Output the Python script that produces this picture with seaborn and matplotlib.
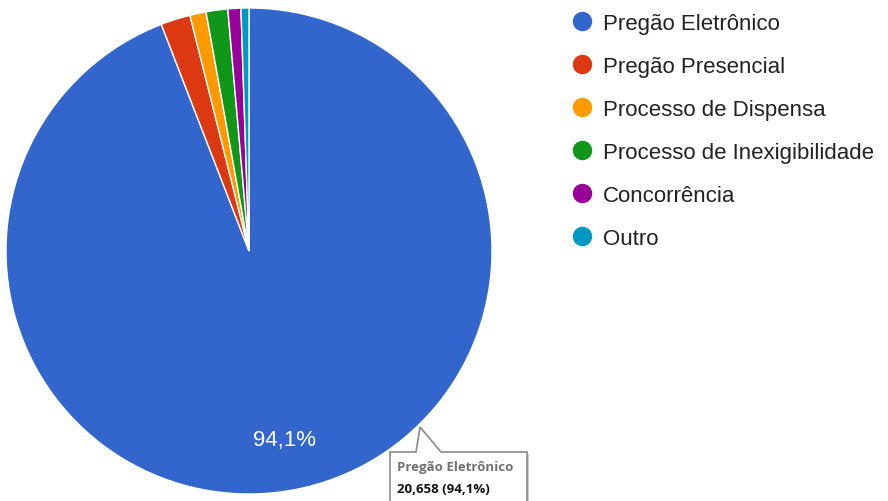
import matplotlib
matplotlib.use("Agg")
import matplotlib.pyplot as plt
import seaborn as sns
from matplotlib.lines import Line2D
from matplotlib.patches import Polygon

categories = ["Pregão Eletrônico", "Pregão Presencial", "Processo de Dispensa",
              "Processo de Inexigibilidade", "Concorrência", "Outro"]
values = [20658, 432, 237, 316, 189, 116]
colors = ["#3366cc", "#dc3912", "#ff9900", "#109618", "#990099", "#0099c6"]

sns.set_theme(style="white")
plt.rcParams['font.family'] = ['Liberation Sans', 'DejaVu Sans']
palette = sns.color_palette(colors)

W, H = 888, 502
fig = plt.figure(figsize=(W / 100, H / 100), dpi=100)
cx, cy, r = 249, 252, 243
ax = fig.add_axes([(cx - r) / W, (H - cy - r) / H, 2 * r / W, 2 * r / H])

def fmt(p):
    return (f"{p:.1f}".replace('.', ',') + '%') if p > 5 else ''

wedges, _, autotexts = ax.pie(values, colors=palette, startangle=90, counterclock=False,
                              radius=1, autopct=fmt, pctdistance=0.79,
                              wedgeprops=dict(edgecolor='white', linewidth=1.0))
ax.set_xlim(-1, 1)
ax.set_ylim(-1, 1)
ax.set_aspect('equal')
ax.axis('off')
for t in autotexts:
    t.set_color('white')
    t.set_fontsize(16)

handles = [Line2D([0], [0], marker='o', linestyle='', markersize=13,
                  markerfacecolor=c, markeredgecolor=c) for c in palette]
leg = fig.legend(handles, categories, loc='upper left',
                 bbox_to_anchor=(563 / W, 1 - 5 / H), frameon=False,
                 fontsize=16, labelspacing=0.99, handletextpad=0.5,
                 handlelength=0.9, borderaxespad=0)
for t in leg.get_texts():
    t.set_color('#222222')

# tooltip
def px(x, y):
    return (x / W, 1 - y / H)

pts = [px(390, 453), px(416, 453), px(420, 428), px(441, 453), px(527, 453),
       px(527, 510), px(390, 510)]
shadow = Polygon([(x + 2 / W, y - 2 / H) for x, y in pts], closed=True,
                 transform=fig.transFigure, facecolor='#cccccc', edgecolor='none')
fig.patches.append(shadow)
tip = Polygon(pts, closed=True, transform=fig.transFigure, facecolor='white',
              edgecolor='#8a8a8a', linewidth=1.2)
fig.patches.append(tip)
fig.text(*px(397, 468), "Pregão Eletrônico", color='#707070', fontsize=9.5,
         fontweight='bold', family=['Open Sans', 'DejaVu Sans'], va='center', ha='left')
fig.text(*px(397, 490), "20,658 (94,1%)", color='#111111', fontsize=9.5,
         fontweight='bold', family=['Open Sans', 'DejaVu Sans'], va='center', ha='left')

fig.savefig("out.png", dpi=100, facecolor='white')
